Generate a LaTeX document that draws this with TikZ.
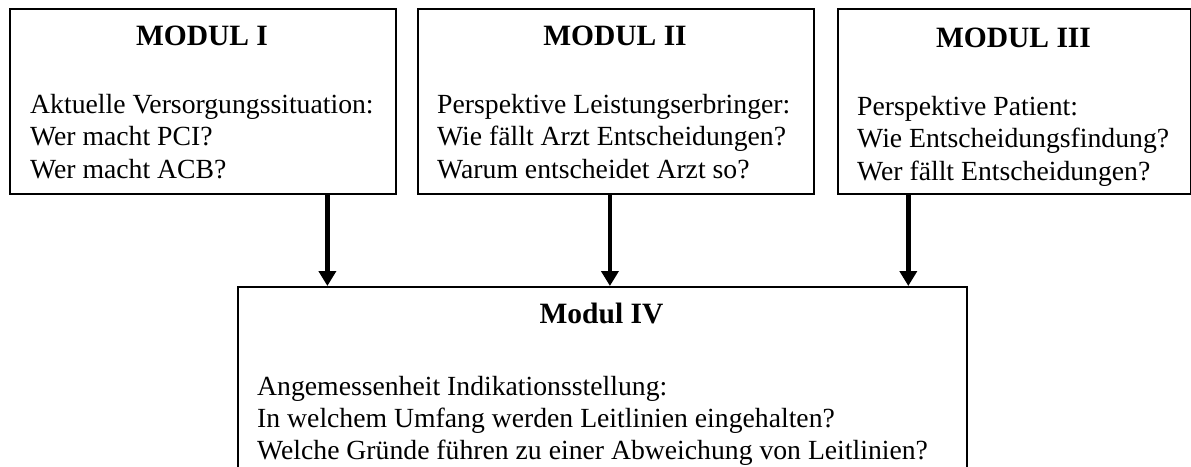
\documentclass[tikz,border=0pt]{standalone}
\usepackage{fontspec}
\setmainfont{Liberation Serif}
\usetikzlibrary{arrows.meta,calc}

\tikzset{
  modbox/.style={draw,line width=1.8pt,anchor=north west,inner sep=0pt},
  modtitel/.style={font=\fontsize{29.5}{34}\selectfont\bfseries,anchor=base,inner sep=0pt},
  modtext/.style={font=\fontsize{27.7}{32.5}\selectfont,align=left,anchor=base west,inner sep=0pt},
  pfeil/.style={line width=4.5pt,-{Triangle[length=15pt,width=17pt]}}
}

\begin{document}
\begin{tikzpicture}[x=1pt,y=-1pt]
\useasboundingbox (0,0) rectangle (1191,466);
\clip (0,0) rectangle (1191,466);

% Modul I
\node[modbox,minimum width=386pt,minimum height=185pt] (m1) at (9,8) {};
\node[modtitel] (t1) at (202,45) {MODUL I};
\node[modtext] (b1) at (30,178) {Aktuelle Versorgungssituation:\\Wer macht PCI?\\Wer macht ACB?};

% Modul II
\node[modbox,minimum width=396pt,minimum height=185pt] (m2) at (417,8) {};
\node[modtitel] (t2) at (615,45) {MODUL II};
\node[modtext] (b2) at (437,178) {Perspektive Leistungserbringer:\\Wie fällt Arzt Entscheidungen?\\Warum entscheidet Arzt so?};

% Modul III
\node[modbox,minimum width=353pt,minimum height=185pt] (m3) at (837,8) {};
\node[modtitel] (t3) at (1013.5,47) {MODUL III};
\node[modtext] (b3) at (857,180) {Perspektive Patient:\\Wie Entscheidungsfindung?\\Wer fällt Entscheidungen?};

% Modul IV (unten abgeschnitten)
\node[modbox,minimum width=729pt,minimum height=220pt] (m4) at (237,286) {};
\node[modtitel] (t4) at (601.5,323) {Modul IV};
\node[modtext,font=\fontsize{27.7}{32}\selectfont] (b4) at (257,459) {Angemessenheit Indikationsstellung:\\In welchem Umfang werden Leitlinien eingehalten?\\Welche Gründe führen zu einer Abweichung von Leitlinien?};

% Pfeile
\draw[pfeil] ($(m1.south west)!0.821!(m1.south east)$) coordinate (p1) -- (p1 |- m4.north);
\draw[pfeil] ($(m2.south west)!0.485!(m2.south east)$) coordinate (p2) -- (p2 |- m4.north);
\draw[pfeil] ($(m3.south west)!0.201!(m3.south east)$) coordinate (p3) -- (p3 |- m4.north);

\end{tikzpicture}
\end{document}
